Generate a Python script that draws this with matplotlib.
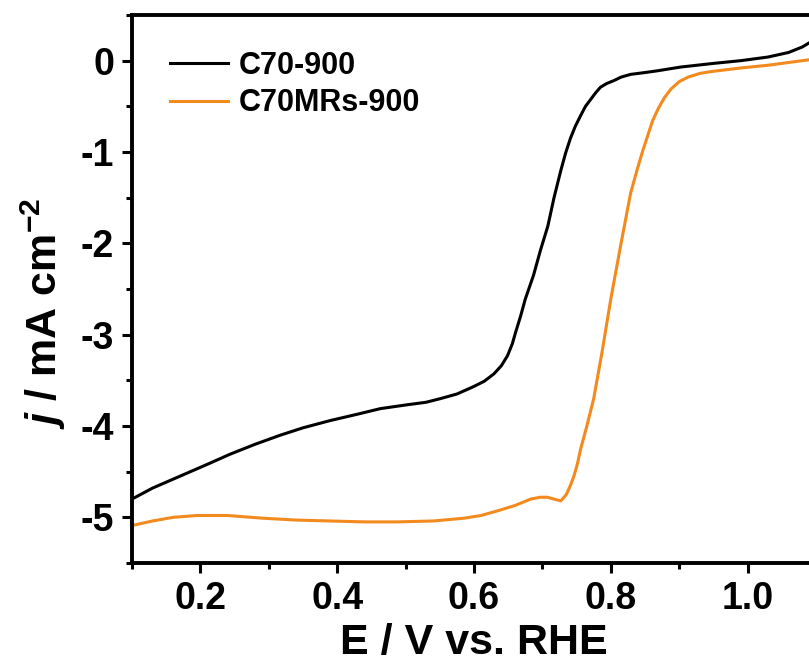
import matplotlib.pyplot as plt
from matplotlib.ticker import MultipleLocator

plt.rcParams['font.family'] = ['Liberation Sans', 'DejaVu Sans']
plt.rcParams['font.weight'] = 'bold'
plt.rcParams['mathtext.fontset'] = 'custom'
plt.rcParams['mathtext.rm'] = 'Liberation Sans:bold'
plt.rcParams['mathtext.it'] = 'Liberation Sans:italic:bold'
plt.rcParams['mathtext.bf'] = 'Liberation Sans:bold'

# C70-900 (black)
e_c70 = [0.100, 0.13, 0.17, 0.21, 0.243, 0.28, 0.317, 0.35, 0.39, 0.43,
         0.463, 0.50, 0.530, 0.551, 0.575, 0.599, 0.615, 0.629, 0.640, 0.649,
         0.656, 0.661, 0.668, 0.675, 0.687, 0.697, 0.708, 0.717, 0.727, 0.734,
         0.741, 0.748, 0.756, 0.763, 0.771, 0.778, 0.785, 0.794, 0.804, 0.815,
         0.829, 0.850, 0.869, 0.902, 0.95, 0.99, 1.03, 1.06, 1.08, 1.10]
j_c70 = [-4.80, -4.68, -4.55, -4.42, -4.31, -4.20, -4.10, -4.02, -3.94, -3.87,
         -3.81, -3.77, -3.74, -3.70, -3.65, -3.57, -3.51, -3.43, -3.34, -3.23,
         -3.10, -2.97, -2.80, -2.61, -2.35, -2.08, -1.81, -1.50, -1.20, -1.01,
         -0.85, -0.72, -0.60, -0.50, -0.42, -0.35, -0.29, -0.25, -0.22, -0.18,
         -0.15, -0.13, -0.11, -0.07, -0.03, 0.00, 0.04, 0.09, 0.15, 0.24]

# C70MRs-900 (orange)
e_mrs = [0.100, 0.13, 0.16, 0.195, 0.24, 0.292, 0.34, 0.39, 0.44, 0.488,
         0.54, 0.585, 0.61, 0.634, 0.66, 0.683, 0.697, 0.707, 0.717, 0.727,
         0.735, 0.741, 0.746, 0.751, 0.756, 0.765, 0.775, 0.787, 0.800, 0.815,
         0.829, 0.839, 0.847, 0.854, 0.861, 0.869, 0.878, 0.888, 0.900, 0.913,
         0.930, 0.946, 0.99, 1.03, 1.07, 1.10]
j_mrs = [-5.09, -5.04, -5.00, -4.98, -4.98, -5.01, -5.03, -5.04, -5.05, -5.05,
         -5.04, -5.01, -4.98, -4.93, -4.87, -4.80, -4.78, -4.78, -4.80, -4.82,
         -4.75, -4.65, -4.55, -4.42, -4.25, -4.00, -3.70, -3.20, -2.61, -2.00,
         -1.45, -1.18, -0.98, -0.82, -0.66, -0.53, -0.41, -0.31, -0.23, -0.18,
         -0.14, -0.12, -0.08, -0.05, -0.01, 0.02]

fig = plt.figure(figsize=(8.09, 6.64), dpi=100)
ax = fig.add_axes([132 / 809, 101 / 664, 684 / 809, 548 / 664])

ax.plot(e_c70, j_c70, color='black', lw=2.2, label='C70-900')
ax.plot(e_mrs, j_mrs, color='#F28A1E', lw=2.2, label='C70MRs-900')

ax.set_xlim(0.1, 1.1)
ax.set_ylim(-5.5, 0.5)
ax.xaxis.set_minor_locator(MultipleLocator(0.1))
ax.yaxis.set_minor_locator(MultipleLocator(0.5))
ax.set_xticks([0.2, 0.4, 0.6, 0.8, 1.0])
ax.set_xticklabels(['0.2', '0.4', '0.6', '0.8', '1.0'])
ax.set_yticks([-5, -4, -3, -2, -1, 0])
ax.set_yticklabels(['-5', '-4', '-3', '-2', '-1', '0'])

for s in ax.spines.values():
    s.set_linewidth(2.8)
ax.tick_params(which='major', direction='out', length=7, width=2.2,
               labelsize=27, pad=6)
ax.tick_params(which='minor', direction='out', length=4, width=2.2)

ax.set_xlabel('E / V vs. RHE', fontsize=31, fontweight='bold', labelpad=4)
ax.set_ylabel(r'$j$ / mA cm$^{-2}$', fontsize=31, fontweight='bold')
ax.yaxis.set_label_coords(-0.093, 0.455)

ax.legend(loc='upper left', bbox_to_anchor=(0.055, 0.935), frameon=False,
          borderpad=0, borderaxespad=0, handlelength=1.9, handletextpad=0.35,
          labelspacing=0.25, prop={'weight': 'bold', 'size': 22})

fig.savefig('out.png', dpi=100)
